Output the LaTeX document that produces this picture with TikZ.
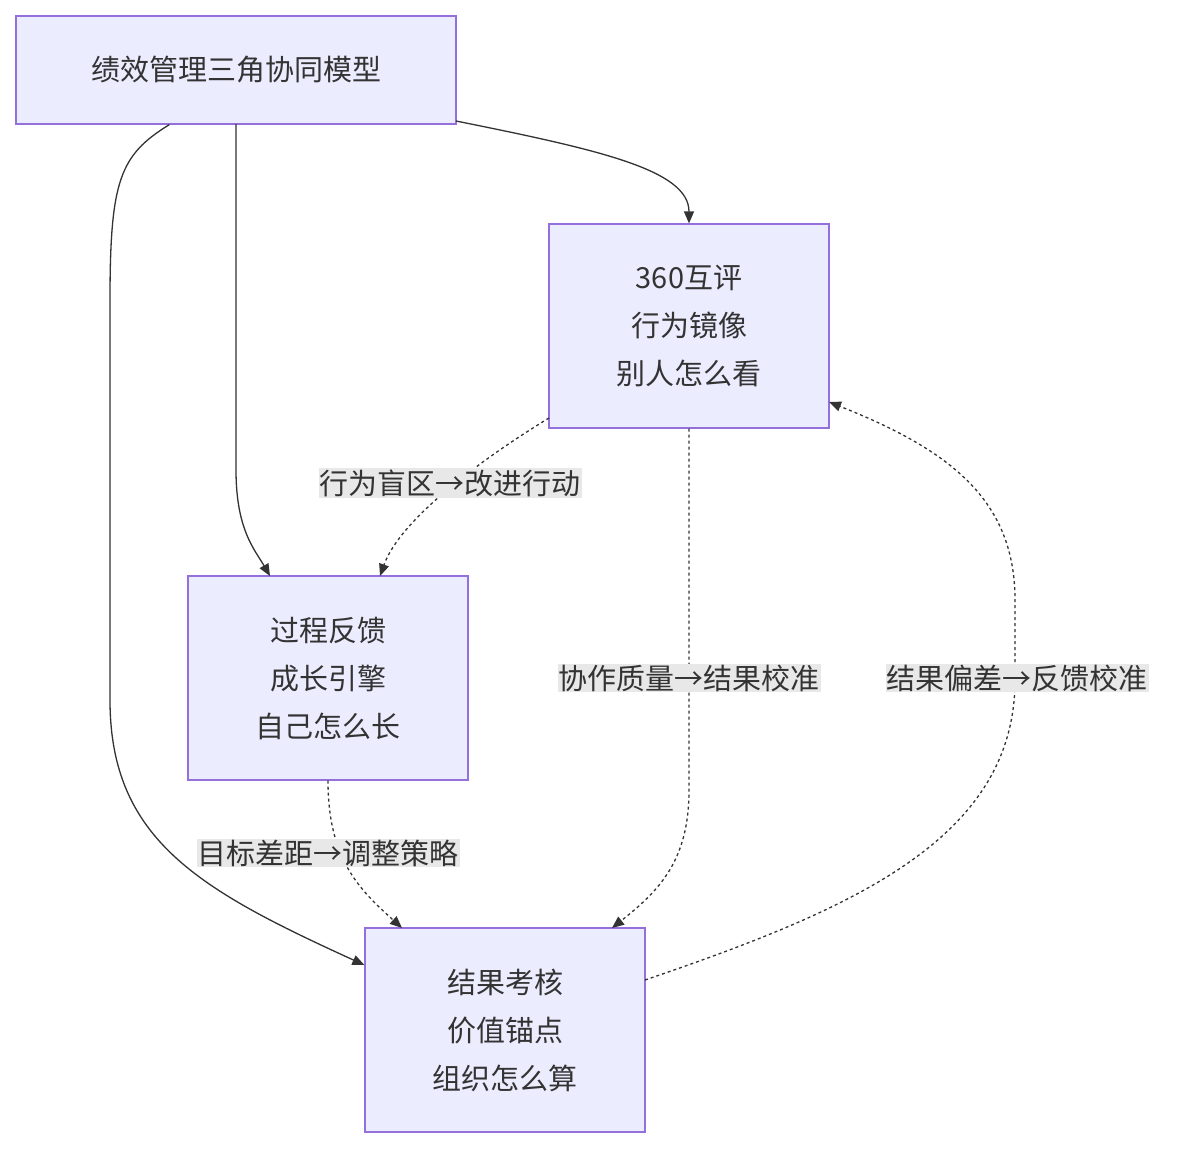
\documentclass[tikz,border=0pt]{standalone}
\usepackage{fontspec}
\setmainfont{Noto Sans CJK SC}
\usetikzlibrary{arrows.meta}
\definecolor{nf}{HTML}{ECECFF}
\definecolor{nb}{HTML}{9370DB}
\definecolor{tx}{HTML}{333333}
\definecolor{lb}{HTML}{E8E8E8}
\begin{document}
\begin{tikzpicture}[x=1pt,y=-1pt,
  box/.style={draw=nb,fill=nf,line width=1.2pt,minimum width=280pt,minimum height=204pt,align=center,text=tx,font=\fontsize{29}{48}\selectfont,inner sep=0pt},
  lbl/.style={fill=lb,text=tx,font=\fontsize{29}{34}\selectfont,inner sep=1pt},
  ar/.style={draw=tx,line width=1.3pt,-{Triangle[length=12pt,width=10pt]}},
  dar/.style={ar,dash pattern=on 3pt off 3pt}]
\useasboundingbox (0,0) rectangle (1177,1148);
\node[box,minimum width=440pt,minimum height=108pt] (t) at (236,70) {绩效管理三角协同模型};
\node[box] (a) at (689,326) {360互评\\行为镜像\\别人怎么看};
\node[box] (b) at (328,678) {过程反馈\\成长引擎\\自己怎么长};
\node[box] (c) at (505,1030) {结果考核\\价值锚点\\组织怎么算};
\draw[ar] (t.south west)++(154,0) .. controls (120,155) and (110,180) .. (110,300) -- (110,700) .. controls (110,840) and (200,890) .. (c.west|-0,965);
\draw[ar] (236,124) -- (236,470) .. controls (236,530) and (255,550) .. (270,576);
\draw[ar] (456,121) .. controls (600,150) and (689,170) .. (a.north);
\draw[dar] (549,418) .. controls (480,460) and (400,520) .. (380,576);
\node[lbl] (l1) at (450,483) {行为盲区→改进行动};
\draw[dar] (a.south) -- (689,790) .. controls (689,860) and (660,890) .. (612,928);
\node[lbl] (l2) at (689,678) {协作质量→结果校准};
\draw[dar] (645,980) .. controls (850,910) and (1015,840) .. (1015,680) -- (1015,600) .. controls (1015,500) and (950,450) .. (829,402);
\node[lbl] (l3) at (1017,678) {结果偏差→反馈校准};
\draw[dar] (b.south) .. controls (328,860) and (360,890) .. (402,928);
\node[lbl] (l4) at (328,853) {目标差距→调整策略};
\end{tikzpicture}
\end{document}
